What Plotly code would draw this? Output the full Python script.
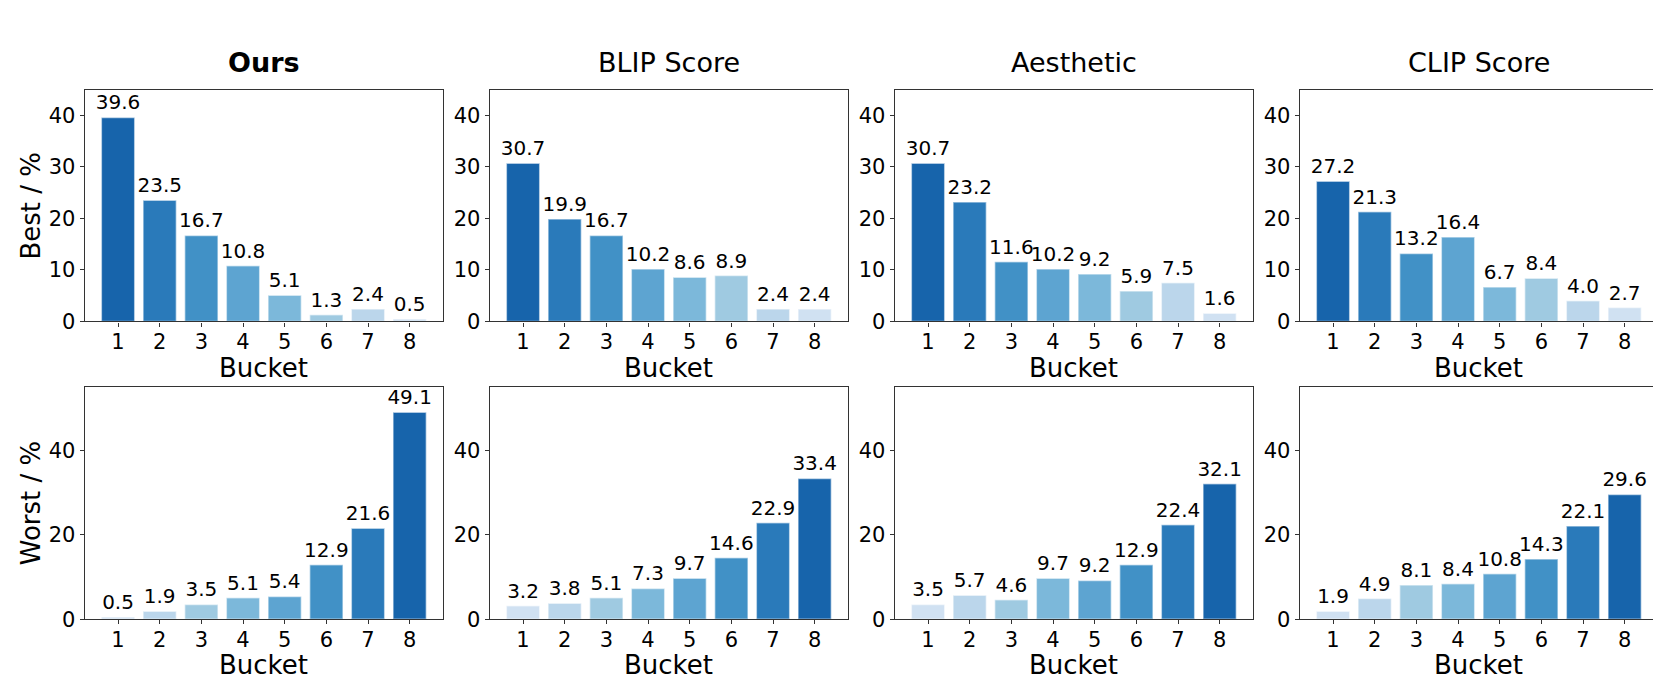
import plotly.graph_objects as go

# ---------------- data ----------------
buckets = [1, 2, 3, 4, 5, 6, 7, 8]
methods = ["Ours", "BLIP Score", "Aesthetic", "CLIP Score"]

best_ours = [39.6, 23.5, 16.7, 10.8, 5.1, 1.3, 2.4, 0.5]
best_blip = [30.7, 19.9, 16.7, 10.2, 8.6, 8.9, 2.4, 2.4]
best_aesthetic = [30.7, 23.2, 11.6, 10.2, 9.2, 5.9, 7.5, 1.6]
best_clip = [27.2, 21.3, 13.2, 16.4, 6.7, 8.4, 4.0, 2.7]

worst_ours = [0.5, 1.9, 3.5, 5.1, 5.4, 12.9, 21.6, 49.1]
worst_blip = [3.2, 3.8, 5.1, 7.3, 9.7, 14.6, 22.9, 33.4]
worst_aesthetic = [3.5, 5.7, 4.6, 9.7, 9.2, 12.9, 22.4, 32.1]
worst_clip = [1.9, 4.9, 8.1, 8.4, 10.8, 14.3, 22.1, 29.6]

best_rows = [best_ours, best_blip, best_aesthetic, best_clip]
worst_rows = [worst_ours, worst_blip, worst_aesthetic, worst_clip]

# ---------------- colours (matplotlib "Blues") ----------------
_blues = [(0.0, "#f7fbff"), (0.125, "#deebf7"), (0.25, "#c6dbef"), (0.375, "#9ecae1"),
          (0.5, "#6baed6"), (0.625, "#4292c6"), (0.75, "#2171b5"), (0.875, "#08519c"),
          (1.0, "#08306b")]


def blues(t):
    for (t0, c0), (t1, c1) in zip(_blues[:-1], _blues[1:]):
        if t0 <= t <= t1:
            f = (t - t0) / (t1 - t0)
            a = [int(c0[i:i + 2], 16) for i in (1, 3, 5)]
            b = [int(c1[i:i + 2], 16) for i in (1, 3, 5)]
            r = [round(a[k] + (b[k] - a[k]) * f) for k in range(3)]
            return "rgb(%d,%d,%d)" % tuple(r)
    return _blues[-1][1]


n = len(buckets)
light_to_dark = [blues(0.2 + 0.6 * i / (n - 1)) for i in range(n)]
dark_to_light = light_to_dark[::-1]

# ---------------- layout geometry ----------------
W, H = 1661, 692
col_x = [(76.7, 435.0), (481.7, 840.0), (886.7, 1245.0), (1291.7, 1650.0)]
row_y = [(83.0, 319.0), (386.0, 622.0)]  # top, bottom in pixels from top

FONT = "DejaVu Sans"
fig = go.Figure()
layout = dict(
    width=W, height=H,
    margin=dict(l=0, r=0, t=0, b=0),
    paper_bgcolor="white", plot_bgcolor="white",
    showlegend=False,
    font=dict(family=FONT, color="black"),
    annotations=[],
)

y_ranges = [[0, 45], [0, 55]]
y_ticks = [[0, 10, 20, 30, 40], [0, 20, 40]]
y_titles = ["Best / %", "Worst / %"]

idx = 0
for r, (rows, colors) in enumerate([(best_rows, dark_to_light), (worst_rows, light_to_dark)]):
    for c in range(4):
        idx += 1
        xa = "x" if idx == 1 else "x%d" % idx
        ya = "y" if idx == 1 else "y%d" % idx
        fig.add_trace(go.Bar(
            x=buckets, y=rows[c], width=0.8,
            marker=dict(color=colors, line=dict(color="rgba(255,255,255,0.55)", width=1.5)),
            text=rows[c], texttemplate="%{y:.1f}", textposition="outside",
            textfont=dict(family=FONT, size=20, color="black"),
            constraintext="none", cliponaxis=False,
            xaxis=xa, yaxis=ya,
        ))
        x0, x1 = col_x[c]
        top, bot = row_y[r]
        layout["xaxis" if idx == 1 else "xaxis%d" % idx] = dict(
            domain=[x0 / W, x1 / W], anchor=ya, range=[0.2, 8.8],
            tickmode="array", tickvals=buckets, ticktext=[str(b) for b in buckets],
            ticks="outside", ticklen=4, tickcolor="#333", tickwidth=1,
            ticklabelstandoff=-3,
            showline=True, linecolor="#333", linewidth=1.2, mirror=True,
            showgrid=False, zeroline=False,
            tickfont=dict(family=FONT, size=21, color="black"),
        )
        layout["yaxis" if idx == 1 else "yaxis%d" % idx] = dict(
            domain=[1 - bot / H, 1 - top / H], anchor=xa, range=y_ranges[r],
            tickmode="array", tickvals=y_ticks[r],
            ticks="outside", ticklen=4, tickcolor="#333", tickwidth=1,
            showline=True, linecolor="#333", linewidth=1.2, mirror=True,
            showgrid=False, zeroline=False,
            tickfont=dict(family=FONT, size=21, color="black"),
        )
        # x label
        layout["annotations"].append(dict(
            text="Bucket", xref="paper", yref="paper",
            x=(x0 + x1) / 2 / W, y=1 - (bot + 47) / H,
            xanchor="center", yanchor="middle", showarrow=False,
            font=dict(family=FONT, size=26, color="black"),
        ))
        # titles on top row
        if r == 0:
            txt = "<b>%s</b>" % methods[c] if c == 0 else methods[c]
            layout["annotations"].append(dict(
                text=txt, xref="paper", yref="paper",
                x=(x0 + x1) / 2 / W, y=1 - 55 / H,
                xanchor="center", yanchor="middle", showarrow=False,
                font=dict(family=FONT, size=27, color="black"),
            ))
    # y label
    top, bot = row_y[r]
    layout["annotations"].append(dict(
        text=y_titles[r], xref="paper", yref="paper",
        x=23 / W, y=1 - (top + bot) / 2 / H, textangle=-90,
        xanchor="center", yanchor="middle", showarrow=False,
        font=dict(family=FONT, size=26, color="black"),
    ))

fig.update_layout(**layout)
fig.write_html("out.html")
